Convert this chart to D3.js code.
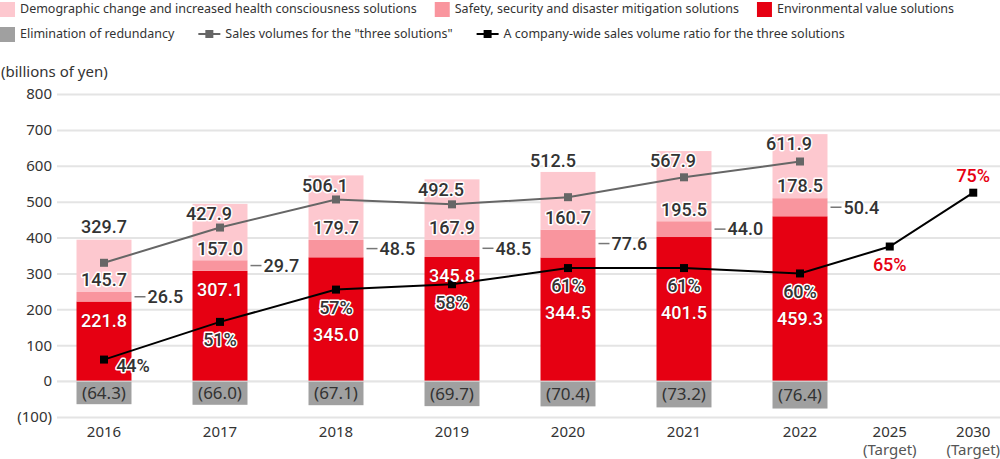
<!DOCTYPE html>
<html>
<head>
<meta charset="utf-8">
<script src="https://d3js.org/d3.v7.min.js"></script>
<style>
  body { margin: 0; background: #fff; }
  svg text { font-family: "Noto Sans", sans-serif; }
  .lbl { font-family: Roboto, sans-serif !important; font-weight: 500; font-size: 18px;
         fill: #333; stroke: #fff; stroke-width: 3px; paint-order: stroke; stroke-linejoin: round; }
  .lbl.red { fill: #fff; stroke: rgba(90,0,0,0.35); stroke-width: 1px; }
  .lbl.target { fill: #e60012; stroke: #fff; }
</style>
</head>
<body>
<script>

/* Data */
/* ==== */

var years = ["2016", "2017", "2018", "2019", "2020", "2021", "2022"];
var targetYears = ["2025", "2030"];

var environmental = [221.8, 307.1, 345.0, 345.8, 344.5, 401.5, 459.3];
var safety        = [26.5, 29.7, 48.5, 48.5, 77.6, 44.0, 50.4];
var demographic   = [145.7, 157.0, 179.7, 167.9, 160.7, 195.5, 178.5];
var redundancy    = [-64.3, -66.0, -67.1, -69.7, -70.4, -73.2, -76.4];
var salesVolume   = [329.7, 427.9, 506.1, 492.5, 512.5, 567.9, 611.9];

// company-wide ratio (%), actual years then the two targets
var ratio = [44, 51, 57, 58, 61, 61, 60, 65, 75];

var yTicks = [-100, 0, 100, 200, 300, 400, 500, 600, 700, 800];

var legendRows = [
  [
    { label: "Demographic change and increased health consciousness solutions", type: "rect", color: "#fdc8cf" },
    { label: "Safety, security and disaster mitigation solutions", type: "rect", color: "#f9959e" },
    { label: "Environmental value solutions", type: "rect", color: "#e60012" }
  ],
  [
    { label: "Elimination of redundancy", type: "rect", color: "#a0a0a0" },
    { label: "Sales volumes for the \"three solutions\"", type: "line", color: "#666" },
    { label: "A company-wide sales volume ratio for the three solutions", type: "line", color: "#000" }
  ]
];


/* Set up */
/* ====== */

var width = 1000,
    height = 459;

var svg = d3.select("body")
  .append("svg")
    .attr("width", width)
    .attr("height", height);

var x = d3.scaleBand()
    .domain(years)
    .range([46, 858])
    .paddingInner(0.526)
    .paddingOuter(0.263);

var xTarget = d3.scaleBand()
    .domain(targetYears)
    .range([848, 1015]);

function cx(d) {
  if (years.indexOf(d) >= 0) return x(d) + x.bandwidth() / 2;
  return xTarget(d) + xTarget.bandwidth() / 2;
}

var y = d3.scaleLinear()
    .domain([-100, 800])
    .range([417, 94]);

// hidden ratio axis: 40% sits on 0, every point is 15 units
var yPct = d3.scaleLinear()
    .domain([40, 40 + 800 / 15])
    .range([y(0), y(800)]);

var allYears = years.concat(targetYears);


/* Grid and axes */
/* ============= */

var yAxis = d3.axisLeft(y)
    .tickValues(yTicks)
    .tickSize(-943)
    .tickPadding(5)
    .tickFormat(function(d) { return d < 0 ? "(" + (-d) + ")" : d; });

var gy = svg.append("g")
    .attr("transform", "translate(57,0)")
    .call(yAxis);

gy.select(".domain").remove();
gy.selectAll(".tick line").attr("stroke", "#e4e4e4").attr("stroke-width", 2);
gy.selectAll(".tick text")
    .attr("fill", "#333")
    .style("font-size", "15px");

svg.append("text")
    .attr("x", 1)
    .attr("y", 72)
    .attr("dy", "0.35em")
    .attr("fill", "#333")
    .style("font-size", "15px")
    .text("(billions of yen)");

var xl = svg.append("g").selectAll("g")
    .data(allYears)
    .enter()
  .append("g")
    .attr("transform", function(d) { return "translate(" + cx(d) + ",0)"; });

xl.append("text")
    .attr("y", 432)
    .attr("dy", "0.35em")
    .attr("text-anchor", "middle")
    .attr("fill", "#333")
    .style("font-size", "15px")
    .text(function(d) { return d; });

xl.filter(function(d) { return targetYears.indexOf(d) >= 0; })
  .append("text")
    .attr("y", 450)
    .attr("dy", "0.35em")
    .attr("text-anchor", "middle")
    .attr("fill", "#555")
    .style("font-size", "15px")
    .text("(Target)");


/* Bars */
/* ==== */

var table = years.map(function(yr, i) {
  return { year: yr, env: environmental[i], safety: safety[i], demo: demographic[i], redund: redundancy[i] };
});

var colors = { env: "#e60012", safety: "#f9959e", demo: "#fdc8cf", redund: "#a0a0a0" };

var stack = d3.stack()
    .keys(["env", "safety", "demo", "redund"])
    .offset(d3.stackOffsetDiverging);

var series = stack(table);

svg.append("g").selectAll("g")
    .data(series)
    .enter()
  .append("g")
    .attr("fill", function(s) { return colors[s.key]; })
  .selectAll("rect")
    .data(function(s) { return s; })
    .enter()
  .append("rect")
    .attr("x", function(d) { return x(d.data.year); })
    .attr("width", x.bandwidth())
    .attr("y", function(d) { return y(d[1]); })
    .attr("height", function(d) { return y(d[0]) - y(d[1]); });

// thin zero line over the bars
svg.append("line")
    .attr("x1", 57).attr("x2", 1000)
    .attr("y1", y(0)).attr("y2", y(0))
    .attr("stroke", "#e4e4e4")
    .attr("stroke-width", 1);


/* Lines */
/* ===== */

var salesLine = d3.line()
    .x(function(d, i) { return cx(years[i]); })
    .y(function(d) { return y(d); });

svg.append("path")
    .datum(salesVolume)
    .attr("d", salesLine)
    .attr("fill", "none")
    .attr("stroke", "#666")
    .attr("stroke-width", 2);

svg.append("g").selectAll("rect")
    .data(salesVolume)
    .enter()
  .append("rect")
    .attr("x", function(d, i) { return cx(years[i]) - 4; })
    .attr("y", function(d) { return y(d) - 4; })
    .attr("width", 8).attr("height", 8)
    .attr("fill", "#666");

var ratioLine = d3.line()
    .x(function(d, i) { return cx(allYears[i]); })
    .y(function(d) { return yPct(d); });

svg.append("path")
    .datum(ratio)
    .attr("d", ratioLine)
    .attr("fill", "none")
    .attr("stroke", "#000")
    .attr("stroke-width", 2);

svg.append("g").selectAll("rect")
    .data(ratio)
    .enter()
  .append("rect")
    .attr("x", function(d, i) { return cx(allYears[i]) - 4; })
    .attr("y", function(d) { return yPct(d) - 4; })
    .attr("width", 8).attr("height", 8)
    .attr("fill", "#000");


/* Labels */
/* ====== */

var fmt = d3.format(".1f");
var labels = svg.append("g");

// placement picked by hand in the original chart
var totalAbove = ["2016", "2020"];
var redBelowPct = ["2018", "2020", "2021", "2022"];

function pctLabelPos(i) {
  var px = cx(allYears[i]), py = yPct(ratio[i]);
  if (i === 0) return [px + 29, py + 6];
  if (i === ratio.length - 1) return [px, py - 17];
  return [px, py + 18];
}

table.forEach(function(d, i) {
  var c = cx(d.year);
  var right = x(d.year) + x.bandwidth();

  // environmental (red)
  var ry = y(d.env) + 19;
  if (redBelowPct.indexOf(d.year) >= 0) ry = pctLabelPos(i)[1] + 27;
  labels.append("text").attr("class", "lbl red")
      .attr("x", c).attr("y", ry).attr("dy", "0.35em")
      .attr("text-anchor", "middle")
      .text(fmt(d.env));

  // safety, with a leader line
  var sy = y(d.env + d.safety / 2);
  labels.append("line")
      .attr("x1", right + 1).attr("x2", right + 14)
      .attr("y1", sy).attr("y2", sy)
      .attr("stroke", "#fff").attr("stroke-width", 4);
  labels.append("line")
      .attr("x1", right + 3).attr("x2", right + 14)
      .attr("y1", sy).attr("y2", sy)
      .attr("stroke", "#777").attr("stroke-width", 1.5);
  labels.append("text").attr("class", "lbl")
      .attr("x", right + 16).attr("y", sy).attr("dy", "0.35em")
      .text(fmt(d.safety));

  // demographic
  labels.append("text").attr("class", "lbl")
      .attr("x", c).attr("y", y(d.env + d.safety) - 12).attr("dy", "0.35em")
      .attr("text-anchor", "middle")
      .text(fmt(d.demo));

  // redundancy (negative)
  labels.append("text")
      .attr("x", c).attr("y", y(d.redund / 2)).attr("dy", "0.35em")
      .attr("text-anchor", "middle")
      .attr("fill", "#333")
      .style("font-size", "17px")
      .text("(" + fmt(-d.redund) + ")");

  // sales volume total
  var above = totalAbove.indexOf(d.year) >= 0;
  var ty = above ? y(salesVolume[i]) - 36 : y(d.env + d.safety + d.demo) + 10;
  var tx = above ? (i === 0 ? c : c - 15) : c - 11;
  labels.append("text").attr("class", "lbl")
      .attr("x", tx).attr("y", ty).attr("dy", "0.35em")
      .attr("text-anchor", "middle")
      .text(fmt(salesVolume[i]));
});

ratio.forEach(function(p, i) {
  var pos = pctLabelPos(i);
  labels.append("text")
      .attr("class", i >= years.length ? "lbl target" : "lbl")
      .attr("x", pos[0]).attr("y", pos[1]).attr("dy", "0.35em")
      .attr("text-anchor", "middle")
      .text(p + "%");
});


/* Legend */
/* ====== */

var legend = svg.append("g").style("font-size", "12.5px");

legendRows.forEach(function(row, r) {
  var ly = 9 + r * 25;
  var lx = 0;
  row.forEach(function(item, k) {
    if (item.type === "rect") {
      legend.append("rect")
          .attr("x", lx).attr("y", ly - 7)
          .attr("width", 15).attr("height", 15)
          .attr("fill", item.color);
      lx += 20;
    } else {
      lx += 6;
      legend.append("line")
          .attr("x1", lx).attr("x2", lx + 22)
          .attr("y1", ly).attr("y2", ly)
          .attr("stroke", item.color).attr("stroke-width", 2);
      legend.append("rect")
          .attr("x", lx + 7).attr("y", ly - 4)
          .attr("width", 8).attr("height", 8)
          .attr("fill", item.color);
      lx += 27;
    }
    var t = legend.append("text")
        .attr("x", lx).attr("y", ly).attr("dy", "0.35em")
        .attr("fill", "#333")
        .text(item.label);
    lx += t.node().getComputedTextLength() + 18;
  });
});

</script>
</body>
</html>
